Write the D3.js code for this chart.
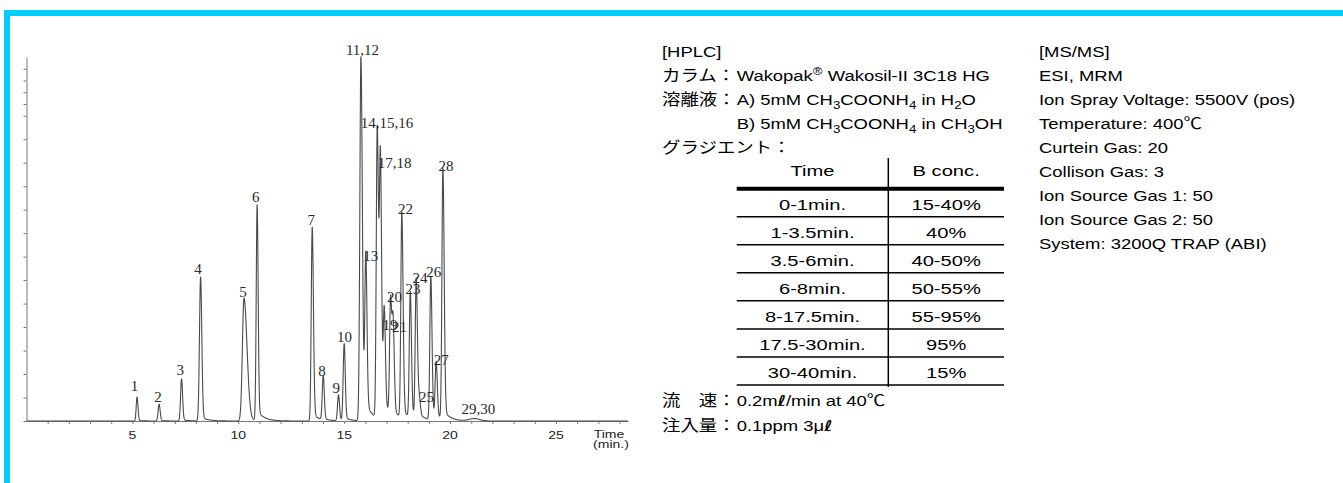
<!DOCTYPE html>
<html>
<head>
<meta charset="utf-8">
<script src="https://cdn.jsdelivr.net/npm/d3@7"></script>
<style>
  html, body { margin: 0; padding: 0; background: #fff; }
  svg { display: block; }
</style>
</head>
<body>
<svg id="chart" width="1343" height="483"></svg>
<script>
// ---- Peak table of the LC-MS/MS chromatogram ----
const peakLabels  = ["1","2","3","4","5","6","7","8","9","10","11,12","13","14,15,16","17,18","19","20","21","22","23","24","25","26","27","28","29,30"];
const peakTimes   = [5.22, 6.26, 7.32, 8.22, 10.27, 10.89, 13.49, 14.01, 14.73, 15.00, 15.79, 16.02, 16.56, 16.71, 16.89, 17.19, 17.31, 17.72, 18.12, 18.40, 18.54, 19.09, 19.34, 19.66, 21.15];
const peakHeights = [1.02, 0.72, 1.79, 6.13, 5.24, 9.20, 8.26, 1.89, 1.11, 3.28, 15.50, 6.77, 12.42, 10.62, 4.23, 4.94, 3.75, 8.77, 5.37, 5.93, 0.75, 6.12, 2.39, 10.69, 0.10];
// peak widths (min): leading / trailing sigma, and tailing fraction
const peakSigmaL  = [0.040, 0.045, 0.045, 0.052, 0.076, 0.043, 0.045, 0.045, 0.045, 0.047, 0.050, 0.045, 0.045, 0.045, 0.045, 0.045, 0.045, 0.045, 0.045, 0.045, 0.050, 0.045, 0.045, 0.045, 0.250];
const peakSigmaR  = [0.045, 0.050, 0.050, 0.057, 0.142, 0.047, 0.057, 0.050, 0.050, 0.050, 0.066, 0.055, 0.060, 0.055, 0.055, 0.055, 0.055, 0.060, 0.055, 0.055, 0.055, 0.055, 0.055, 0.060, 0.250];
const peakTail    = [0.02, 0.02, 0.03, 0.03, 0.03, 0.05, 0.04, 0.03, 0.03, 0.04, 0.06, 0.06, 0.06, 0.06, 0.05, 0.05, 0.05, 0.05, 0.05, 0.05, 0.05, 0.05, 0.05, 0.04, 0.00];

// axis ticks
const xTickLabels = [5, 10, 15, 20, 25];
const xMinorTicks = [1,2,3,4,5,6,7,8,9,10,11,12,13,14,15,16,17,18,19,20,21,22,23,24,25,26,27,28];
const yTicks      = [0,1,2,3,4,5,6,7,8,9,10,11,12,13,13.5,14,14.5,15];

// gradient program
const gradTime  = ["0-1min.", "1-3.5min.", "3.5-6min.", "6-8min.", "8-17.5min.", "17.5-30min.", "30-40min."];
const gradBconc = ["15-40%", "40%", "40-50%", "50-55%", "55-95%", "95%", "15%"];

// MS/MS conditions
const msLines = ["ESI, MRM", "Ion Spray Voltage: 5500V (pos)", "Temperature: 400℃", "Curtein Gas: 20",
                 "Collison Gas: 3", "Ion Source Gas 1: 50", "Ion Source Gas 2: 50", "System: 3200Q TRAP (ABI)"];

// label placement relative to each peak apex (px)
const labelNudge = [[-2.5,-5.7],[-1,-2.3],[-1.2,-4],[-2.5,-3.4],[-1,-1],[-1.5,-2.7],[-1,-1.7],[-1.3,-1],[-2.3,-1.7],[0.2,-2.3],
                    [1.6,-1.7],[5,-1],[9.8,-1],[14.2,-4],[5.7,8.3],[3.8,-3.3],[6.3,-1.3],[3.8,-0.7],[2.7,-0.7],[3.7,1.6],
                    [7.3,-1.3],[3,-0.6],[5.2,0],[3.1,1],[3.9,-4.5]];

const svg = d3.select("#chart");
const CYAN = "#00ccff";

// frame
svg.append("rect").attr("x", 4).attr("y", 10).attr("width", 1339).attr("height", 6).attr("fill", CYAN);
svg.append("rect").attr("x", 4).attr("y", 10).attr("width", 6).attr("height", 473).attr("fill", CYAN);

// ---- chromatogram ----
const x = d3.scaleLinear().domain([0, 28.4]).range([26.5, 628]);
const y = d3.scaleLinear().domain([0, 15.5]).range([421, 57]);
const TAU = 0.3;

function signal(t) {
  let s = 0;
  for (let i = 0; i < peakTimes.length; i++) {
    const d = t - peakTimes[i], h = peakHeights[i];
    if (d < 0) s += h * Math.exp(-0.5 * (d / peakSigmaL[i]) ** 2);
    else {
      const a = peakTail[i];
      s += h * ((1 - a) * Math.exp(-0.5 * (d / peakSigmaR[i]) ** 2) + a * Math.exp(-d / TAU));
    }
  }
  return s;
}

const axisColor = "#777";
const gx = svg.append("g").attr("transform", "translate(0,421)")
  .call(d3.axisBottom(x).tickValues(xMinorTicks).tickSize(3).tickSizeOuter(0).tickFormat(""));
gx.select(".domain").attr("stroke", axisColor);
gx.selectAll(".tick line").attr("stroke", axisColor);

const gy = svg.append("g").attr("transform", "translate(26.5,0)")
  .call(d3.axisLeft(y).tickValues(yTicks).tickSize(3).tickSizeOuter(0).tickFormat(""));
gy.select(".domain").attr("stroke", axisColor);
gy.selectAll(".tick line").attr("stroke", axisColor);

const SANS = "Liberation Sans, Arial, sans-serif";
svg.append("g").selectAll("text").data(xTickLabels).join("text")
  .attr("transform", d => `translate(${x(d)},439) scale(1,0.75)`)
  .attr("text-anchor", "middle")
  .attr("font-family", SANS)
  .attr("font-size", 14).attr("fill", "#222")
  .text(d => d);

svg.append("text").attr("transform", "translate(609,437.5) scale(1,0.72)")
  .attr("text-anchor", "middle").attr("font-family", SANS)
  .attr("font-size", 14).attr("fill", "#222").text("Time");
svg.append("text").attr("transform", "translate(611,448) scale(1,0.72)")
  .attr("text-anchor", "middle").attr("font-family", SANS)
  .attr("font-size", 14).attr("fill", "#222").text("(min.)");

const ts = d3.range(0, 28.4, 0.004);
svg.append("path")
  .datum(ts)
  .attr("fill", "none").attr("stroke", "#4a4a4a").attr("stroke-width", 1.1)
  .attr("stroke-linejoin", "round")
  .attr("d", d3.line().x(t => x(t)).y(t => y(signal(t))));

svg.append("g").selectAll("text").data(peakLabels).join("text")
  .attr("x", (d, i) => x(peakTimes[i]) + labelNudge[i][0])
  .attr("y", (d, i) => y(peakHeights[i]) + labelNudge[i][1])
  .attr("text-anchor", "middle")
  .attr("font-family", "Liberation Serif, Times New Roman, serif")
  .attr("font-size", 15).attr("fill", "#2a2a2a")
  .text(d => d);

// ---- condition panels ----
const FONT = "Liberation Sans, Arial, 'Noto Sans CJK JP', sans-serif";
const FS = 15.5, SX = 1.19;

function richText(px, py, parts, opts = {}) {
  const fs = opts.fs || FS, sx = opts.sx || SX;
  const t = svg.append("text")
    .attr("transform", `translate(${px},${py}) scale(${sx},1)`)
    .attr("font-family", FONT).attr("font-size", fs).attr("fill", "#000")
    .attr("text-anchor", opts.anchor || "start");
  let shift = 0;
  parts.forEach(p => {
    if (typeof p === "string") {
      t.append("tspan").attr("dy", -shift).text(p); shift = 0;
    } else if (p.sub) {
      t.append("tspan").attr("dy", 4 - shift).attr("font-size", fs * 0.72).text(p.sub); shift = 4;
    } else if (p.sup) {
      t.append("tspan").attr("dy", -6 - shift).attr("font-size", fs * 0.72).text(p.sup); shift = -6;
    } else if (p.lit) {
      t.append("tspan").attr("dy", -shift).attr("font-style", "italic").attr("font-weight", "bold")
        .attr("font-family", "DejaVu Sans, sans-serif").attr("font-size", fs * 0.95).text(p.lit); shift = 0;
    }
  });
  return t;
}

const LX = 662, VX = 736.7;
richText(LX, 56.7, ["[HPLC]"]);
richText(LX, 80.7, ["カラム："]);
richText(VX, 80.7, ["Wakopak", {sup: "®"}, " Wakosil-II 3C18 HG"]);
richText(LX, 104.7, ["溶離液："]);
richText(VX, 104.7, ["A) 5mM CH", {sub: "3"}, "COONH", {sub: "4"}, " in H", {sub: "2"}, "O"]);
richText(VX, 128.7, ["B) 5mM CH", {sub: "3"}, "COONH", {sub: "4"}, " in CH", {sub: "3"}, "OH"]);
richText(LX, 152.7, ["グラジエント："]);
richText(LX, 405.5, ["流　速："]);
richText(VX, 405.5, ["0.2m", {lit: "ℓ"}, "/min at 40℃"]);
richText(LX, 430.5, ["注入量："]);
richText(VX, 430.5, ["0.1ppm 3μ", {lit: "ℓ"}]);

// gradient table
const tblL = 736.7, tblMid = 888.3, tblR = 1004, tblTop = 158;
const rowLines = d3.range(gradTime.length + 1).map(i => 188.7 + i * 28.04);
const tbl = svg.append("g");
tbl.append("line").attr("x1", tblMid).attr("x2", tblMid).attr("y1", tblTop).attr("y2", rowLines[rowLines.length - 1] + 2)
  .attr("stroke", "#000").attr("stroke-width", 1.5);
rowLines.forEach((ly, i) => {
  tbl.append("line").attr("x1", tblL).attr("x2", tblR).attr("y1", ly).attr("y2", ly)
    .attr("stroke", "#000").attr("stroke-width", i === 0 ? 4 : 1.5);
});
const TSX = 1.3;
richText((tblL + tblMid) / 2, 175.5, ["Time"], {anchor: "middle", sx: TSX});
richText((tblMid + tblR) / 2, 175.5, ["B conc."], {anchor: "middle", sx: TSX});
gradTime.forEach((d, i) => {
  const cy = (rowLines[i] + rowLines[i + 1]) / 2 + 7.5;
  richText((tblL + tblMid) / 2, cy, [d], {anchor: "middle", sx: TSX});
  richText((tblMid + tblR) / 2, cy, [gradBconc[i]], {anchor: "middle", sx: TSX});
});

// MS/MS column
const MX = 1039;
richText(MX, 56.7, ["[MS/MS]"]);
msLines.forEach((s, i) => richText(MX, 80.7 + i * 24, [s]));
</script>
</body>
</html>
